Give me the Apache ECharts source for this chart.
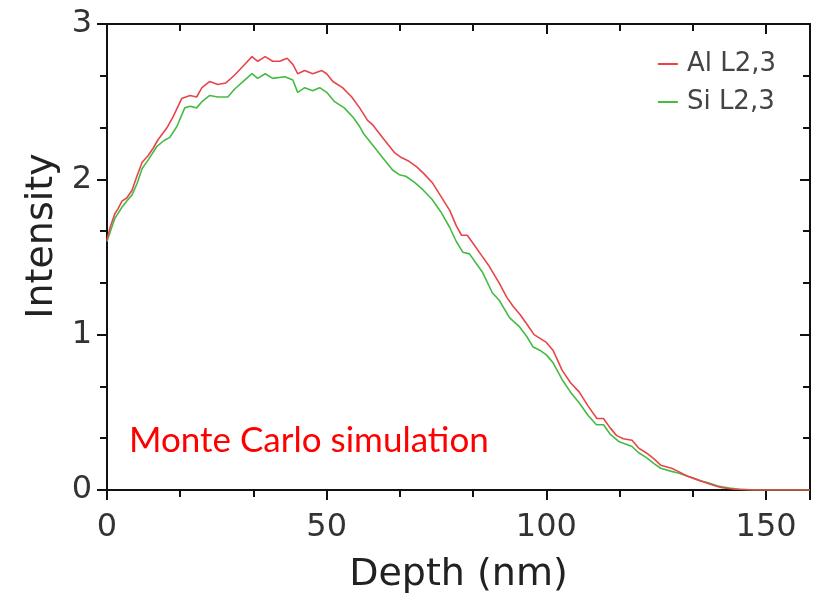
<!DOCTYPE html>
<html>
<head>
<meta charset="utf-8">
<script src="https://cdn.jsdelivr.net/npm/echarts@6/dist/echarts.min.js"></script>
<style>
  html, body { margin: 0; padding: 0; background: #fff; }
  #myChart { width: 817px; height: 599px; }
</style>
</head>
<body>
<div id="myChart"></div>
<script>
// depth (nm) and intensity
const alDepth = [0, 0.7, 1.8, 2.5, 3.4, 4.5, 5.7, 6.8, 8, 9.3, 10.5, 11.5, 13.6, 15, 17, 18.9, 20.4, 21.6, 23.4, 25.2, 27, 29, 31, 33, 34.3, 36, 37.7, 39.3, 41, 42.3, 43.4, 45, 46.8, 48.9, 50, 51.4, 53.6, 55.7, 57.5, 59.3, 60.5, 62.7, 65.5, 67, 68.5, 70.5, 72, 74, 76, 78, 79.5, 80.7, 82, 83.5, 85, 87, 89.3, 91, 92.5, 94, 95.5, 97.2, 100, 101.5, 103.6, 105.5, 107.5, 109.5, 111.5, 113, 114.5, 116, 117.5, 119.5, 121, 122.7, 124.5, 126, 128.5, 130, 132, 134, 136, 138, 140, 143, 147, 160];
const alIntensity = [1.61, 1.69, 1.78, 1.81, 1.86, 1.88, 1.93, 2.02, 2.11, 2.15, 2.20, 2.25, 2.33, 2.40, 2.52, 2.54, 2.53, 2.59, 2.63, 2.61, 2.62, 2.67, 2.73, 2.79, 2.76, 2.79, 2.76, 2.76, 2.78, 2.74, 2.68, 2.70, 2.68, 2.70, 2.68, 2.63, 2.59, 2.53, 2.46, 2.38, 2.35, 2.27, 2.17, 2.14, 2.12, 2.08, 2.04, 1.98, 1.89, 1.80, 1.70, 1.64, 1.64, 1.58, 1.52, 1.44, 1.33, 1.24, 1.18, 1.13, 1.07, 1.00, 0.95, 0.90, 0.77, 0.69, 0.63, 0.54, 0.46, 0.46, 0.40, 0.35, 0.33, 0.32, 0.27, 0.24, 0.20, 0.16, 0.14, 0.12, 0.09, 0.07, 0.05, 0.03, 0.015, 0.005, 0, 0];

const siDepth = [0, 0.7, 1.8, 2.5, 3.4, 4.5, 5.7, 6.8, 8, 9.5, 11.3, 13, 14.3, 15.9, 17.7, 18.9, 20.4, 21.6, 23.4, 25.2, 27.5, 29, 31, 33, 34.3, 36, 37.7, 40.5, 42.3, 43.4, 45, 46.8, 48.4, 50, 51.8, 54, 56, 57.5, 58.5, 60.5, 62.7, 65, 66.5, 68, 70, 72, 74, 76, 78, 79.5, 81, 82.5, 84, 85.5, 87.7, 89.3, 91.6, 93.9, 95.5, 97, 98.5, 100, 101.5, 103.6, 105.5, 107.5, 109.5, 111.4, 113, 114.5, 116.6, 119.5, 121, 122.7, 124.5, 126, 128.5, 130, 133, 135, 137, 139, 141.6, 144, 147.7, 160];
const siIntensity = [1.60, 1.66, 1.75, 1.78, 1.82, 1.86, 1.90, 1.97, 2.07, 2.13, 2.21, 2.25, 2.27, 2.34, 2.46, 2.47, 2.46, 2.50, 2.54, 2.53, 2.53, 2.58, 2.63, 2.68, 2.65, 2.68, 2.65, 2.66, 2.64, 2.56, 2.59, 2.57, 2.59, 2.56, 2.50, 2.46, 2.40, 2.34, 2.29, 2.22, 2.14, 2.06, 2.03, 2.02, 1.98, 1.93, 1.87, 1.79, 1.69, 1.60, 1.53, 1.52, 1.46, 1.40, 1.27, 1.22, 1.11, 1.05, 0.99, 0.92, 0.90, 0.87, 0.82, 0.71, 0.63, 0.56, 0.48, 0.42, 0.42, 0.36, 0.31, 0.28, 0.24, 0.21, 0.17, 0.14, 0.12, 0.11, 0.08, 0.06, 0.045, 0.025, 0.013, 0.005, 0, 0];

const seriesNames = ['Al L2,3', 'Si L2,3'];
const seriesColors = ['#e8454a', '#45bb45'];

const xTicks = { min: 0, max: 160, interval: 50 };
const yTicks = { min: 0, max: 3, interval: 1 };

const pairs = (xs, ys) => xs.map((x, i) => [x, ys[i]]);

let myChart = echarts.init(document.getElementById('myChart'));

const fontFamily = 'DejaVu Sans';
const axisLine = { show: true, onZero: false, lineStyle: { color: '#111', width: 2 } };
const tickStyle = { color: '#111', width: 2 };

myChart.setOption({
  animation: false,
  backgroundColor: '#fff',
  textStyle: { fontFamily: fontFamily },
  grid: { left: 107, right: 7, top: 24, bottom: 109, containLabel: false },
  title: {
    text: 'Monte Carlo simulation',
    left: 124,
    top: 418,
    textStyle: { color: '#ff0000', fontFamily: 'Lato', fontSize: 35, fontWeight: 'normal' }
  },
  legend: {
    orient: 'vertical',
    right: 36,
    top: 46,
    itemWidth: 20,
    itemHeight: 2,
    itemGap: 12,
    icon: 'rect',
    textStyle: { color: '#444', fontSize: 26, fontFamily: fontFamily, padding: [0, 0, 0, 4] },
    data: seriesNames
  },
  xAxis: [
    {
      type: 'value',
      position: 'bottom',
      min: xTicks.min, max: xTicks.max, interval: xTicks.interval,
      name: 'Depth (nm)',
      nameLocation: 'middle',
      nameGap: 66,
      nameTextStyle: { color: '#222', fontSize: 38, fontFamily: fontFamily },
      axisLine: axisLine,
      axisTick: { show: true, inside: false, length: 10, lineStyle: tickStyle },
      minorTick: { show: true, splitNumber: 3, length: 7, lineStyle: tickStyle },
      axisLabel: { color: '#333', fontSize: 32, margin: 22, showMaxLabel: false },
      splitLine: { show: false }
    },
    {
      type: 'value',
      position: 'top',
      min: xTicks.min, max: xTicks.max, interval: xTicks.interval,
      axisLine: axisLine,
      axisTick: { show: true, inside: true, length: 10, lineStyle: tickStyle },
      minorTick: { show: true, splitNumber: 3, length: 7, lineStyle: tickStyle },
      axisLabel: { show: false },
      splitLine: { show: false }
    }
  ],
  yAxis: [
    {
      type: 'value',
      position: 'left',
      min: yTicks.min, max: yTicks.max, interval: yTicks.interval,
      name: 'Intensity',
      nameLocation: 'middle',
      nameGap: 42,
      nameTextStyle: { color: '#222', fontSize: 38, fontFamily: fontFamily, padding: [0, 0, 0, 42] },
      axisLine: axisLine,
      axisTick: { show: true, inside: false, length: 10, lineStyle: tickStyle },
      minorTick: { show: true, splitNumber: 3, length: 7, lineStyle: tickStyle },
      axisLabel: { color: '#333', fontSize: 32, margin: 15 },
      splitLine: { show: false }
    },
    {
      type: 'value',
      position: 'right',
      min: yTicks.min, max: yTicks.max, interval: yTicks.interval,
      axisLine: axisLine,
      axisTick: { show: true, inside: true, length: 10, lineStyle: tickStyle },
      minorTick: { show: true, splitNumber: 3, length: 7, lineStyle: tickStyle },
      axisLabel: { show: false },
      splitLine: { show: false }
    }
  ],
  series: [
    {
      name: seriesNames[0],
      type: 'line',
      showSymbol: false,
      z: 3,
      lineStyle: { color: seriesColors[0], width: 1.6 },
      itemStyle: { color: seriesColors[0] },
      data: pairs(alDepth, alIntensity)
    },
    {
      name: seriesNames[1],
      type: 'line',
      showSymbol: false,
      z: 2,
      lineStyle: { color: seriesColors[1], width: 1.6 },
      itemStyle: { color: seriesColors[1] },
      data: pairs(siDepth, siIntensity)
    }
  ]
});

window.onresize = function () {
  myChart.resize();
};
</script>
</body>
</html>
